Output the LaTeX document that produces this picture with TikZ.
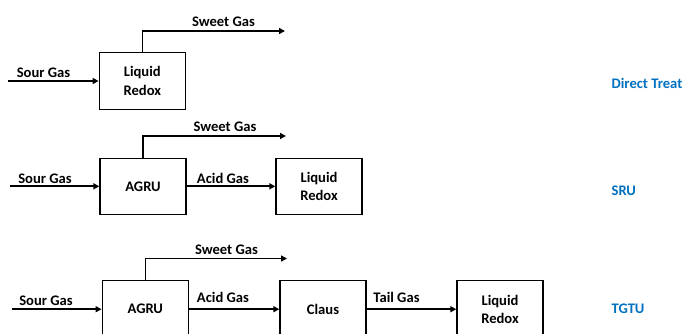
\documentclass[tikz,border=0pt]{standalone}
\usepackage{fontspec}
\setmainfont{Carlito}
\usetikzlibrary{arrows.meta}
\definecolor{lblblue}{HTML}{0070C0}
\begin{document}
\begin{tikzpicture}[x=1pt,y=-1pt,
  every node/.style={font=\fontsize{14.6}{18.4}\selectfont\bfseries, inner sep=0pt},
  unitbox/.style={draw, line width=1.4pt, minimum width=86pt, minimum height=57pt, align=center},
  flow/.style={line width=1.6pt, -{Triangle[length=6pt,width=6pt]}},
  lbl/.style={anchor=base},
  side/.style={anchor=base west, text=lblblue}]
\useasboundingbox (0,0) rectangle (683,334);
\clip (0,0) rectangle (683,334);
% Row 1
\node[unitbox] (lr1) at (142.3,80.8) {Liquid\\Redox};
\coordinate (s1) at (8,81);
\coordinate (sw1) at (285,31);
\draw[flow] (s1) -- (s1 -| lr1.west);
\draw[flow] (lr1.north) |- (sw1);
\node[lbl] (sour1) at (43.5,77.5) {Sour Gas};
\node[lbl] (sweet1) at (223.5,27) {Sweet Gas};
\node[side] (dt) at (611.5,88.5) {Direct Treat};
% Row 2
\node[unitbox, minimum height=56pt] (agru2) at (143,186.3) {AGRU};
\node[unitbox, minimum height=56pt] (lr2) at (319,186.3) {Liquid\\Redox};
\coordinate (s2) at (10,186.3);
\coordinate (sw2) at (286,136);
\draw[flow] (s2) -- (agru2.west);
\draw[flow] (agru2.north) |- (sw2);
\draw[flow] (agru2.east) -- (lr2.west);
\node[lbl] (sour2) at (45,183.5) {Sour Gas};
\node[lbl] (sweet2) at (225,131.8) {Sweet Gas};
\node[lbl] (acid2) at (223,183.5) {Acid Gas};
\node[side] (sru) at (611.5,196) {SRU};
% Row 3
\node[unitbox] (agru3) at (145.3,309.2) {AGRU};
\node[unitbox] (claus3) at (323,309.2) {Claus};
\node[unitbox] (lr3) at (500,309.2) {Liquid\\Redox};
\coordinate (s3) at (12,309.2);
\coordinate (sw3) at (287,258.5);
\draw[flow] (s3) -- (agru3.west);
\draw[flow] (agru3.north) |- (sw3);
\draw[flow] (agru3.east) -- (claus3.west);
\draw[flow] (claus3.east) -- (lr3.west);
\node[lbl] (sour3) at (46,305) {Sour Gas};
\node[lbl] (sweet3) at (226.5,254) {Sweet Gas};
\node[lbl] (acid3) at (223,302.5) {Acid Gas};
\node[lbl] (tail3) at (396.5,302.5) {Tail Gas};
\node[side] (tgtu) at (611.5,313.5) {TGTU};
\end{tikzpicture}
\end{document}
